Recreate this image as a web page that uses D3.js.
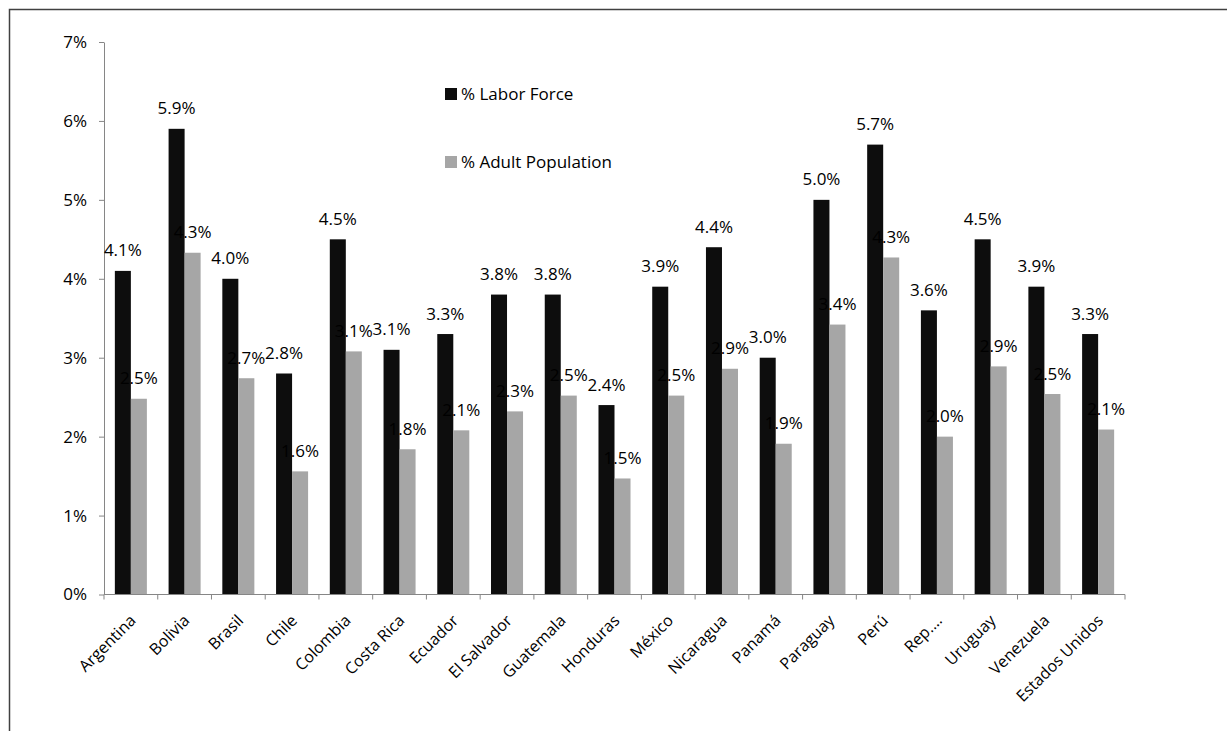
<!DOCTYPE html>
<html>
<head>
<meta charset="utf-8">
<script src="https://cdn.jsdelivr.net/npm/d3@7"></script>
<style>
  html, body { margin: 0; padding: 0; background: #fff; }
  svg { display: block; }
  text { font-family: "Open Sans", sans-serif; fill: #000; }
</style>
</head>
<body>
<svg id="chart" width="1227" height="731"></svg>
<script>
const categories = ["Argentina","Bolivia","Brasil","Chile","Colombia","Costa Rica","Ecuador","El Salvador","Guatemala","Honduras","México","Nicaragua","Panamá","Paraguay","Perú","Rep.…","Uruguay","Venezuela","Estados Unidos"];
const laborForce = [0.041,0.059,0.040,0.028,0.045,0.031,0.033,0.038,0.038,0.024,0.039,0.044,0.030,0.050,0.057,0.036,0.045,0.039,0.033];
const adultPopulation = [0.0248,0.0433,0.0274,0.0156,0.0308,0.0184,0.0208,0.0232,0.0252,0.0147,0.0252,0.0286,0.0191,0.0342,0.0427,0.0200,0.0289,0.0254,0.0209];
const seriesNames = ["% Labor Force","% Adult Population"];
const seriesColors = ["#0d0d0d","#a6a6a6"];
const yTicks = [0,0.01,0.02,0.03,0.04,0.05,0.06,0.07];

const svg = d3.select("#chart");

// outer chart border (right/bottom fall outside the picture)
svg.append("rect").attr("x",9.5).attr("y",9.5).attr("width",1240).attr("height",760)
  .attr("fill","none").attr("stroke","#404040").attr("stroke-width",1.5);

const plotLeft = 104, plotRight = 1125, plotTop = 42, plotBottom = 594.5;
const x = d3.scaleBand().domain(categories).range([plotLeft,plotRight]).paddingInner(0.404).paddingOuter(0.202);
const xs = d3.scaleBand().domain([0,1]).range([0,x.bandwidth()]);
const y = d3.scaleLinear().domain([0,0.07]).range([plotBottom,plotTop]);

const series = [laborForce, adultPopulation];

// bars
series.forEach((vals,si)=>{
  svg.append("g").selectAll("rect").data(categories).join("rect")
    .attr("x",(c)=>x(c)+xs(si))
    .attr("y",(c,i)=>y(vals[i]))
    .attr("width",xs.bandwidth())
    .attr("height",(c,i)=>y(0)-y(vals[i]))
    .attr("fill",seriesColors[si]);
});

// y axis
const yAxis = d3.axisLeft(y).tickValues(yTicks).tickFormat(d3.format(".0%")).tickSize(5).tickSizeOuter(0).tickPadding(12);
const gy = svg.append("g").attr("transform",`translate(${plotLeft},0)`).call(yAxis);
gy.select(".domain").attr("stroke","#868686");
gy.selectAll(".tick line").attr("stroke","#868686");
gy.selectAll(".tick text").style("font-size","17px").style("font-family","'Open Sans', sans-serif").attr("fill","#000");

// x axis line + boundary ticks
const step = x.step();
const bounds = d3.range(categories.length+1).map(i=>plotLeft+i*step);
const gx = svg.append("g");
gx.append("line").attr("x1",plotLeft).attr("x2",plotRight).attr("y1",plotBottom).attr("y2",plotBottom).attr("stroke","#868686");
gx.selectAll("line.tk").data(bounds).join("line").attr("class","tk")
  .attr("x1",d=>d).attr("x2",d=>d).attr("y1",plotBottom).attr("y2",plotBottom+5).attr("stroke","#868686");
gx.selectAll("text").data(categories).join("text")
  .attr("transform",d=>`translate(${x(d)+x.bandwidth()/2-2},${plotBottom+19}) rotate(-45)`)
  .attr("text-anchor","end").attr("dy","0.71em")
  .style("font-size","16px").text(d=>d);

// data labels
const fmt = d3.format(".1%");
series.forEach((vals,si)=>{
  svg.append("g").selectAll("text").data(categories).join("text")
    .attr("x",(c)=>x(c)+xs(si)+xs.bandwidth()/2)
    .attr("y",(c,i)=>y(vals[i])-14.5)
    .attr("text-anchor","middle")
    .style("font-size","17px")
    .text((c,i)=>fmt(vals[i]));
});

// legend
const lg = svg.append("g");
seriesNames.forEach((n,i)=>{
  lg.append("rect").attr("x",445).attr("y",88+i*68).attr("width",12).attr("height",12).attr("fill",seriesColors[i]);
  lg.append("text").attr("x",461).attr("y",100+i*68).style("font-size","17px").text(n);
});
</script>
</body>
</html>
